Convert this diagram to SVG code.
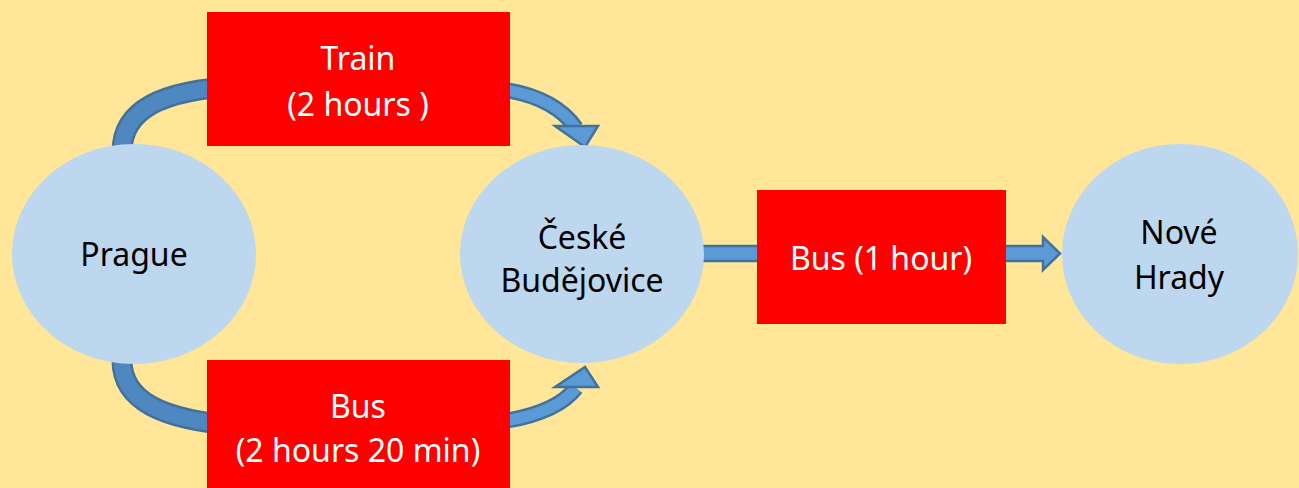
<svg xmlns="http://www.w3.org/2000/svg" width="1299" height="488" viewBox="0 0 1299 488">
<style>
.node ellipse{fill:#BDD7EE}
.box{fill:#FF0000}
text{font-family:"Noto Sans","Liberation Sans",sans-serif;font-size:32px;text-anchor:middle}
.w{fill:#FFFFFF}
.k{fill:#000000}
.bandO{fill:none;stroke:#41719C;stroke-width:21}
.bandI{fill:none;stroke:#4F88C0;stroke-width:16}
.bandO2{fill:none;stroke:#41719C;stroke-width:16}
.bandI2{fill:none;stroke:#5B9BD5;stroke-width:11}
.head{fill:#5B9BD5;stroke:#41719C;stroke-width:2.5;stroke-linejoin:miter}
</style>
<rect width="1299" height="488" fill="#FFE699"/>
<g id="connectors">
  <path class="bandO" d="M122,152 C122,110 160,90 240,86"/>
  <path class="bandI" d="M122,152 C122,110 160,90 240,86"/>
  <path class="bandO2" d="M490,88 C535,92 562,108 576,128"/>
  <path class="bandI2" d="M490,88 C535,92 562,108 576,128"/>
  <polygon class="head" points="555,126 598,126 585,147"/>
  <path class="bandO" d="M122,360 C122,400 160,420 240,426"/>
  <path class="bandI" d="M122,360 C122,400 160,420 240,426"/>
  <path class="bandO2" d="M490,423 C535,418 562,406 576,388"/>
  <path class="bandI2" d="M490,423 C535,418 562,406 576,388"/>
  <polygon class="head" points="555,387 598,387 585,367"/>
  <rect x="700" y="246" width="62" height="15" fill="#5B9BD5" stroke="#41719C" stroke-width="2.5"/>
  <polygon class="head" points="1000,246 1043,246 1043,237 1060,253.5 1043,270 1043,261 1000,261"/>
</g>
<g id="prague" class="node">
  <ellipse cx="134" cy="254" rx="122" ry="110"/>
  <text class="k" x="134" y="266">Prague</text>
</g>
<g id="ceske" class="node">
  <ellipse cx="582" cy="254" rx="122" ry="109"/>
  <text class="k" x="582" y="249">České</text>
  <text class="k" x="582" y="292">Budějovice</text>
</g>
<g id="nove" class="node">
  <ellipse cx="1180" cy="254" rx="118" ry="110"/>
  <text class="k" x="1179" y="244">Nové</text>
  <text class="k" x="1179" y="289">Hrady</text>
</g>
<g id="train">
  <rect class="box" x="207" y="12" width="303" height="134"/>
  <text class="w" x="358" y="70">Train</text>
  <text class="w" x="358" y="116">(2 hours )</text>
</g>
<g id="bus">
  <rect class="box" x="207" y="360" width="303" height="128"/>
  <text class="w" x="358" y="418">Bus</text>
  <text class="w" x="358" y="462">(2 hours 20 min)</text>
</g>
<g id="bus1">
  <rect class="box" x="757" y="190" width="249" height="134"/>
  <text class="w" x="881" y="270">Bus (1 hour)</text>
</g>
</svg>
